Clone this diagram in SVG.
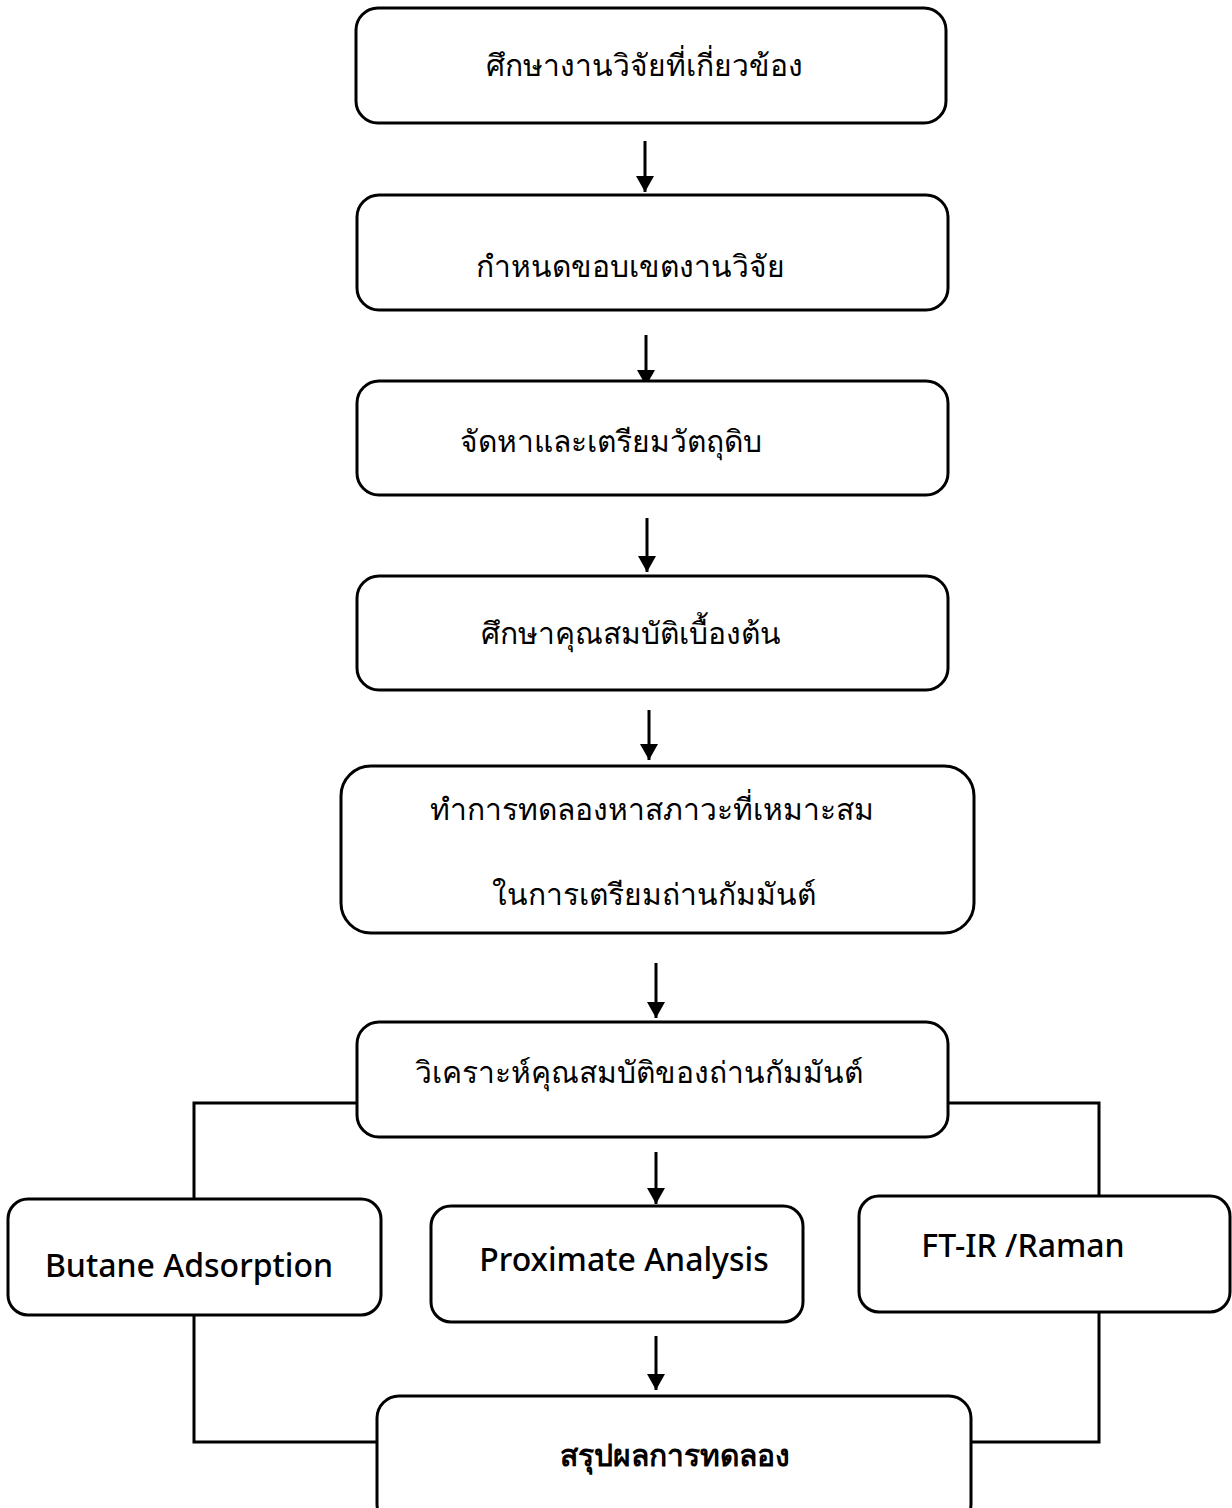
<svg xmlns="http://www.w3.org/2000/svg" width="1232" height="1508" viewBox="0 0 1232 1508">
<style>
.box{fill:#fff;stroke:#000;stroke-width:3}
.th{font-family:"Noto Sans","DejaVu Sans",sans-serif;font-size:30px;fill:#000;text-anchor:middle}
.en{font-family:"Noto Sans","DejaVu Sans",sans-serif;font-size:32px;fill:#000;text-anchor:middle;font-weight:500}
.bd{font-family:"Noto Sans","DejaVu Sans",sans-serif;font-size:30px;fill:#000;text-anchor:middle;font-weight:700}
.ln{fill:none;stroke:#000;stroke-width:3}
</style>
<defs>
<marker id="a" markerWidth="16" markerHeight="18" refX="16" refY="9" orient="auto" markerUnits="userSpaceOnUse" viewBox="0 0 16 18">
<path d="M0,0 L16,9 L0,18 z" fill="#000"/>
</marker>
</defs>
<rect width="1232" height="1508" fill="#fff"/>
<g id="connectors">
<line class="ln" x1="645" y1="141" x2="645" y2="192" marker-end="url(#a)"/>
<line class="ln" x1="646" y1="335" x2="646" y2="386" marker-end="url(#a)"/>
<line class="ln" x1="647" y1="518" x2="647" y2="572" marker-end="url(#a)"/>
<line class="ln" x1="649" y1="710" x2="649" y2="760" marker-end="url(#a)"/>
<line class="ln" x1="656" y1="963" x2="656" y2="1018" marker-end="url(#a)"/>
<line class="ln" x1="656" y1="1152" x2="656" y2="1204" marker-end="url(#a)"/>
<line class="ln" x1="656" y1="1336" x2="656" y2="1390" marker-end="url(#a)"/>
<polyline class="ln" points="357,1103 194,1103 194,1199"/>
<polyline class="ln" points="194,1315 194,1442 377,1442"/>
<polyline class="ln" points="948,1103 1099,1103 1099,1196"/>
<polyline class="ln" points="1099,1312 1099,1442 971,1442"/>
</g>
<g id="n1"><rect class="box" x="356" y="8" width="590" height="115" rx="22"/><text class="th" x="644" y="76">ศึกษางานวิจัยที่เกี่ยวข้อง</text></g>
<g id="n2"><rect class="box" x="357" y="195" width="591" height="115" rx="22"/><text class="th" x="630" y="277">กำหนดขอบเขตงานวิจัย</text></g>
<g id="n3"><rect class="box" x="357" y="381" width="591" height="114" rx="22"/><text class="th" x="611" y="452">จัดหาและเตรียมวัตถุดิบ</text></g>
<g id="n4"><rect class="box" x="357" y="576" width="591" height="114" rx="22"/><text class="th" x="631" y="644">ศึกษาคุณสมบัติเบื้องต้น</text></g>
<g id="n5"><rect class="box" x="341" y="766" width="633" height="167" rx="30"/><text class="th" x="652" y="820">ทำการทดลองหาสภาวะที่เหมาะสม</text><text class="th" x="654" y="905">ในการเตรียมถ่านกัมมันต์</text></g>
<g id="n6"><rect class="box" x="357" y="1022" width="591" height="115" rx="22"/><text class="th" x="639" y="1083">วิเคราะห์คุณสมบัติของถ่านกัมมันต์</text></g>
<g id="n7"><rect class="box" x="8" y="1199" width="373" height="116" rx="20"/><text class="en" x="189" y="1277">Butane Adsorption</text></g>
<g id="n8"><rect class="box" x="431" y="1206" width="372" height="116" rx="20"/><text class="en" x="624" y="1271">Proximate Analysis</text></g>
<g id="n9"><rect class="box" x="859" y="1196" width="371" height="116" rx="20"/><text class="en" x="1023" y="1257">FT-IR /Raman</text></g>
<g id="n10"><rect class="box" x="377" y="1396" width="594" height="130" rx="22"/><text class="bd" x="675" y="1466">สรุปผลการทดลอง</text></g>
</svg>
